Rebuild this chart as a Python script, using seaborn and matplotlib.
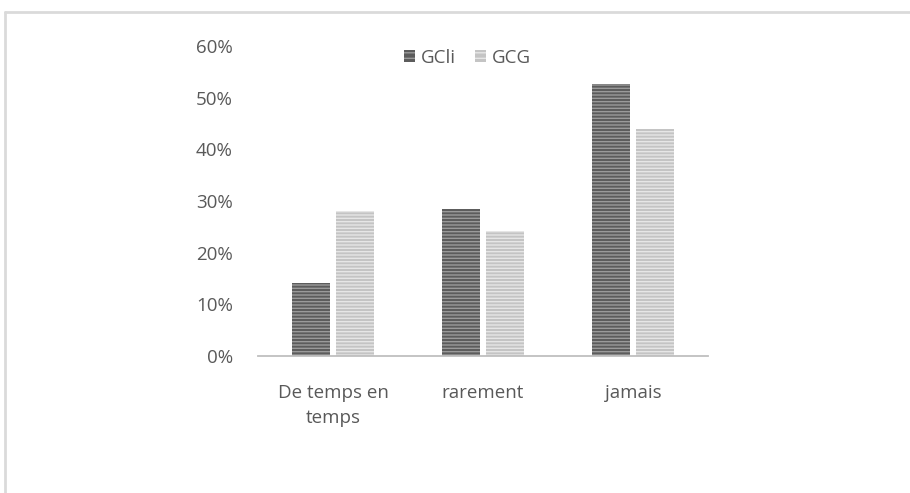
import pandas as pd
import matplotlib
matplotlib.use("Agg")
import matplotlib.pyplot as plt
import seaborn as sns
from matplotlib.lines import Line2D
from matplotlib.ticker import FuncFormatter

categories = ["De temps en\ntemps", "rarement", "jamais"]
groups = ["GCli", "GCG"]
gcli = [14.2, 28.4, 52.6]
gcg = [28.0, 24.2, 44.0]

df = pd.DataFrame({
    "categorie": categories * 2,
    "groupe": [groups[0]] * 3 + [groups[1]] * 3,
    "valeur": gcli + gcg,
})

sns.set_style("white")
plt.rcParams["font.family"] = ["Open Sans", "DejaVu Sans"]
text_grey = "#595959"

fig = plt.figure(figsize=(9.1, 4.93), dpi=100)
ax = fig.add_axes([258 / 910, 1 - 356 / 493, 450 / 910, 310 / 493])

face = {"GCli": "#5c5c5c", "GCG": "#c4c4c4"}
stripe = {"GCli": "#9a9a9a", "GCG": "#e6e6e6"}
sns.barplot(data=df, x="categorie", y="valeur", hue="groupe", hue_order=groups,
            palette=face, width=0.58, gap=0.13, ax=ax, legend=False)

plt.rcParams["hatch.linewidth"] = 1.0
for bars, g in zip(ax.containers, groups):
    for p in bars:
        p.set_hatch("-----")
        p.set_edgecolor(stripe[g])
        p.set_linewidth(0)

ax.set_ylim(0, 60)
ax.set_yticks(range(0, 61, 10))
ax.yaxis.set_major_formatter(FuncFormatter(lambda v, _: f"{v:.0f}%"))
ax.set_xlabel("")
ax.set_ylabel("")
ax.tick_params(axis="both", length=0, labelsize=13.5, colors=text_grey)
ax.tick_params(axis="y", pad=18)
ax.tick_params(axis="x", pad=20)
for lbl in ax.get_xticklabels():
    lbl.set_linespacing(1.55)
for s in ["top", "right", "left"]:
    ax.spines[s].set_visible(False)
ax.spines["bottom"].set_color("#bfbfbf")
ax.spines["bottom"].set_linewidth(1.3)

handles = [plt.Rectangle((0, 0), 1, 1, facecolor=face[g], edgecolor=stripe[g],
                         hatch="---", linewidth=0) for g in groups]
leg = ax.legend(handles, groups, loc="upper center", bbox_to_anchor=(0.465, 1.045),
                ncol=2, frameon=False, fontsize=13.5, handlelength=0.6,
                handleheight=0.6, handletextpad=0.3, columnspacing=1.0)
for t in leg.get_texts():
    t.set_color(text_grey)

# light grey frame of the original picture (only top and left visible)
frame_kw = dict(color="#dadada", linewidth=2, transform=fig.transFigure)
fig.add_artist(Line2D([4.5 / 910, 4.5 / 910], [0, 1 - 11.5 / 493], **frame_kw))
fig.add_artist(Line2D([4.5 / 910, 1], [1 - 11.5 / 493, 1 - 11.5 / 493], **frame_kw))

fig.savefig("out.png", dpi=100, facecolor="white")
